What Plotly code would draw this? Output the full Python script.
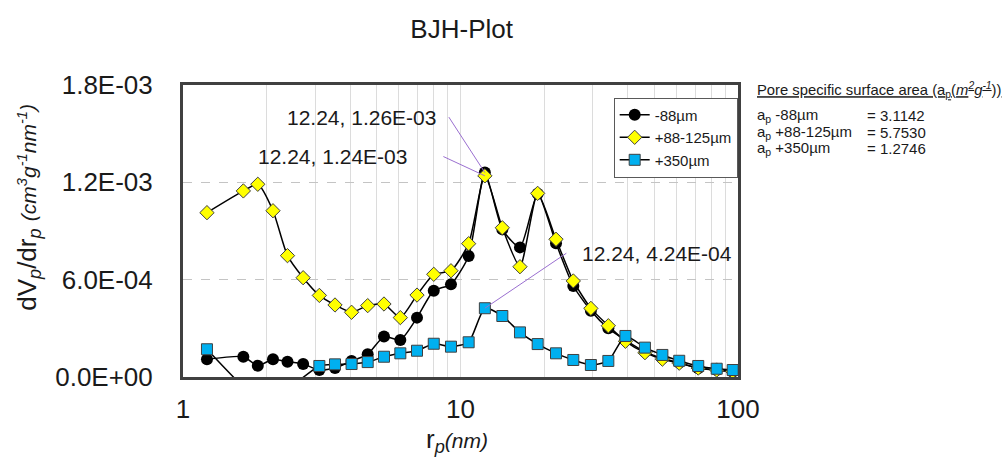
import numpy as np
import plotly.graph_objects as go

# Pore radius r_p (nm)
radius = [1.22, 1.65, 1.86, 2.11, 2.38, 2.71, 3.10, 3.53, 4.05, 4.63, 5.30, 6.07,
          6.97, 8.01, 9.24, 10.7, 12.24, 14.15, 16.38, 18.97, 22.09, 25.5, 29.5,
          34.1, 39.3, 46.2, 53.4, 61.4, 71.9, 83.8, 95.7]

# dVp/drp (cm3 g-1 nm-1) for each size fraction
fine_88 = [1.09e-4, 1.25e-4, 7.0e-5, 1.09e-4, 9.4e-5, 8.0e-5, 4.3e-5, 5.5e-5,
           9.9e-5, 1.40e-4, 2.49e-4, 2.28e-4, 3.66e-4, 5.32e-4, 5.71e-4, 7.46e-4,
           1.26e-3, 9.1e-4, 7.99e-4, 1.13e-3, 8.24e-4, 5.61e-4, 4.09e-4, 3.0e-4,
           2.28e-4, 1.56e-4, 1.15e-4, 8.8e-5, 5.4e-5, 4.3e-5, 3.3e-5]
mid_88_125 = [1.013e-3, 1.147e-3, 1.188e-3, 1.025e-3, 7.48e-4, 6.12e-4, 5.03e-4,
              4.44e-4, 3.99e-4, 4.40e-4, 4.50e-4, 3.66e-4, 5.05e-4, 6.33e-4,
              6.55e-4, 8.22e-4, 1.24e-3, 9.20e-4, 6.80e-4, 1.132e-3, 8.49e-4,
              5.92e-4, 4.23e-4, 3.16e-4, 2.2e-4, 1.5e-4, 1.1e-4, 8.5e-5, 5.5e-5,
              4.3e-5, 3.3e-5]
coarse_350 = [1.71e-4, -6.0e-5, -1.2e-4, -1.4e-4, -7.8e-5, None, 6.8e-5, 7.8e-5,
              8.0e-5, 9.2e-5, 1.25e-4, 1.46e-4, 1.62e-4, 2.05e-4, 1.87e-4, 2.14e-4,
              4.24e-4, 3.76e-4, 2.75e-4, 2.03e-4, 1.46e-4, 1.05e-4, 7.4e-5, 9.9e-5,
              2.53e-4, 1.81e-4, 1.36e-4, 1.0e-4, 6.8e-5, 5.1e-5, 4.3e-5]

series_names = ["-88µm", "+88-125µm", "+350µm"]

# Pore specific surface areas (m2 g-1)
area_labels = ["a<sub>p</sub> -88µm", "a<sub>p</sub> +88-125µm", "a<sub>p</sub> +350µm"]
area_values = ["= 3.1142", "= 5.7530", "= 1.2746"]

y_tickvals = [0, 6e-4, 1.2e-3, 1.8e-3]
y_ticktext = ["0.0E+00", "6.0E-04", "1.2E-03", "1.8E-03"]
x_tickvals = [1, 2, 3, 4, 5, 6, 7, 8, 9, 10, 20, 30, 40, 50, 60, 70, 80, 90, 100]
x_ticktext = ["1", "", "", "", "", "", "", "", "", "10", "", "", "", "", "", "", "", "", "100"]

FONT = "Liberation Sans, Arial, sans-serif"
TXT = "#1a1a1a"
LEADER = "#9a6fd0"

fig = go.Figure()
line_style = dict(color="black", width=1.5, shape="spline", smoothing=0.6)

fig.add_trace(go.Scatter(
    x=radius, y=fine_88, name=series_names[0], mode="lines+markers",
    line=line_style,
    marker=dict(symbol="circle", size=12, color="black"),
))
fig.add_trace(go.Scatter(
    x=radius, y=mid_88_125, name=series_names[1], mode="lines+markers",
    line=line_style,
    marker=dict(symbol="diamond", size=11, color="#ffff00",
                line=dict(color="#404040", width=1)),
))
fig.add_trace(go.Scatter(
    x=radius, y=coarse_350, name=series_names[2], mode="lines+markers",
    line=line_style, connectgaps=True,
    marker=dict(symbol="square", size=11, color="#00b0f0",
                line=dict(color="#404040", width=1)),
))

annotations = []

# Peak value labels with leader lines
peak_idx = radius.index(12.24)
peak_labels = [
    (fine_88[peak_idx], -123, 55, -37, -57),
    (mid_88_125[peak_idx], -152, 19, -43, -20),
    (coarse_350[peak_idx], 172, 55, 83, -56),
]
for val, xs, ys, ax, ay in peak_labels:
    lx = np.log10(radius[peak_idx])
    annotations.append(dict(
        x=lx, y=val, xref="x", yref="y", text="", showarrow=True,
        arrowhead=0, arrowwidth=1, arrowcolor=LEADER, ax=ax, ay=ay, standoff=0,
    ))
    annotations.append(dict(
        x=lx, y=val, xref="x", yref="y", showarrow=False,
        xanchor="center", yanchor="middle",
        text=f"{radius[peak_idx]:.2f}, {val:.2E}",
        xshift=xs, yshift=ys, font=dict(family=FONT, size=21, color=TXT),
    ))

# Axis titles
annotations.append(dict(
    x=0.494, y=-0.218, xref="paper", yref="paper", showarrow=False,
    xanchor="center", yanchor="middle",
    text="r<sub><i>p</i></sub><i><span style='font-size:21px'>(nm)</span></i>",
    font=dict(family=FONT, size=26, color=TXT),
))
annotations.append(dict(
    x=-0.279, y=0.58, xref="paper", yref="paper", showarrow=False, textangle=-90,
    xanchor="center", yanchor="middle",
    text=("dV<sub><i>p</i></sub>/dr<sub><i>p</i></sub> "
          "<i><span style='font-size:21px'>(cm<sup>3</sup>g<sup>-1</sup>nm<sup>-1</sup>)</span></i>"),
    font=dict(family=FONT, size=26, color=TXT),
))

# Surface area summary block
annotations.append(dict(
    x=1.0306, y=0.983, xref="paper", yref="paper", showarrow=False,
    xanchor="left", yanchor="middle",
    text="<u>Pore specific surface area (a<sub>p</sub>(<i>m<sup>2</sup>g<sup>-1</sup></i>))</u>",
    font=dict(family=FONT, size=14.8, color=TXT),
))
row_y = [0.894, 0.839, 0.784]
for lab, val, yy in zip(area_labels, area_values, row_y):
    annotations.append(dict(
        x=1.0306, y=yy, xref="paper", yref="paper", showarrow=False,
        xanchor="left", yanchor="middle", text=lab,
        font=dict(family=FONT, size=15, color=TXT),
    ))
    annotations.append(dict(
        x=1.2288, y=yy, xref="paper", yref="paper", showarrow=False,
        xanchor="left", yanchor="middle", text=val,
        font=dict(family=FONT, size=15, color=TXT),
    ))

fig.update_layout(
    width=1008, height=461,
    margin=dict(l=183, r=270, t=85, b=84),
    paper_bgcolor="white", plot_bgcolor="white",
    font=dict(family=FONT, color=TXT),
    title=dict(text="BJH-Plot", x=0.458, xanchor="center", y=0.937, yanchor="middle",
               font=dict(family=FONT, size=26, color=TXT)),
    legend=dict(x=0.776, y=0.957, xanchor="left", yanchor="top",
                bgcolor="white", bordercolor="#595959", borderwidth=1,
                font=dict(family=FONT, size=15, color=TXT),
                itemwidth=30, tracegroupgap=0),
    annotations=annotations,
    xaxis=dict(
        type="log", range=[0, 2], tickvals=x_tickvals, ticktext=x_ticktext,
        showgrid=True, gridcolor="#dcdcdc", gridwidth=1,
        showline=True, mirror=True, linecolor="#404040", linewidth=3,
        ticks="", ticklabelstandoff=7, zeroline=False,
        tickfont=dict(family=FONT, size=26, color=TXT),
    ),
    yaxis=dict(
        range=[0, 1.8e-3], tickvals=y_tickvals, ticktext=y_ticktext,
        showgrid=True, gridcolor="#c4c4c4", gridwidth=1, griddash="dash",
        showline=True, mirror=True, linecolor="#404040", linewidth=3,
        ticks="", ticklabelstandoff=22, zeroline=False,
        tickfont=dict(family=FONT, size=26, color=TXT),
    ),
)

fig.write_html("out.html")
